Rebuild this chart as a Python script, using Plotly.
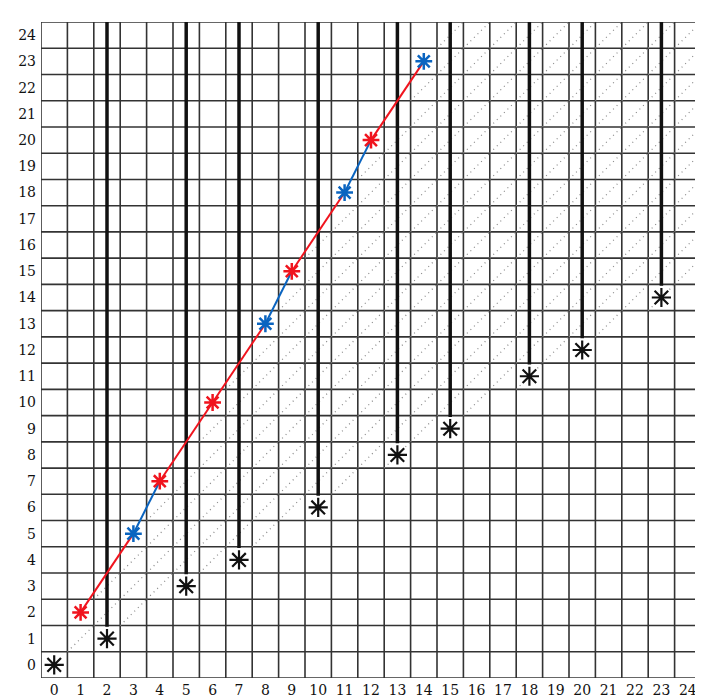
import plotly.graph_objects as go
import math

# black points with vertical bars from the top
black_x = [0, 2, 5, 7, 10, 13, 15, 18, 20, 23]
black_y = [0, 1, 3, 4, 6, 8, 9, 11, 12, 14]

# path points, in order, with colours
path_x = [1, 3, 4, 6, 8, 9, 11, 12, 14]
path_y = [2, 5, 7, 10, 13, 15, 18, 20, 23]
path_c = ["red", "blue", "red", "red", "blue", "red", "blue", "red", "blue"]

ticks = list(range(25))
RED = "#f0141e"
BLUE = "#0a64c0"
col = {"red": RED, "blue": BLUE}

fig = go.Figure()

# dotted diagonals in cells between the black points and the path
dx, dy = [], []
for x in range(1, 25):
    lo = math.floor(0.6 * x) + 1
    if x <= 14:
        p = 2 + (23 - 2) / 13 * (x - 1)
        hi = math.floor(p - 0.5)
    else:
        hi = 24
    for y in range(lo, hi + 1):
        dx += [x - 0.5, x + 0.5, None]
        dy += [y - 0.5, y + 0.5, None]
fig.add_trace(go.Scatter(x=dx, y=dy, mode="lines",
                         line=dict(color="#888", width=1.2, dash="1px,4px"),
                         hoverinfo="skip"))

# vertical bars
for x, y in zip(black_x[1:], black_y[1:]):
    fig.add_trace(go.Scatter(x=[x, x], y=[24.5, y + 0.45], mode="lines",
                             line=dict(color="#111", width=3.5)))

# path segments
for i in range(len(path_x) - 1):
    fig.add_trace(go.Scatter(x=path_x[i:i + 2], y=path_y[i:i + 2], mode="lines",
                             line=dict(color=col[path_c[i]], width=2)))

fig.add_trace(go.Scatter(x=black_x, y=black_y, mode="markers",
                         marker=dict(symbol="asterisk-open", size=16, color="#111",
                                     line=dict(color="#111", width=2.2))))
pc = [col[c] for c in path_c]
fig.add_trace(go.Scatter(x=path_x, y=path_y, mode="markers",
                         marker=dict(symbol="asterisk-open", size=14, color=pc,
                                     line=dict(color=pc, width=2.5))))

ax = dict(range=[-0.5, 24.5], tickvals=ticks, ticktext=[str(t) for t in ticks],
          showgrid=False, zeroline=False, showline=False, ticks="",
          tickfont=dict(family="DejaVu Serif", size=14, color="#111"))
shapes = []
for k in range(26):
    v = k - 0.5
    shapes.append(dict(type="line", xref="x", yref="y", x0=v, x1=v, y0=-0.5, y1=24.5,
                       line=dict(color="#333", width=1.6), layer="below"))
    shapes.append(dict(type="line", xref="x", yref="y", y0=v, y1=v, x0=-0.5, x1=24.5,
                       line=dict(color="#333", width=1.6), layer="below"))

fig.update_layout(width=703, height=700, showlegend=False,
                  margin=dict(l=28, r=10, t=14, b=25),
                  plot_bgcolor="white", paper_bgcolor="white",
                  xaxis=dict(ax, ticklabelstandoff=2), yaxis=dict(ax, ticklabelstandoff=4),
                  shapes=shapes)
fig.write_html("out.html")
